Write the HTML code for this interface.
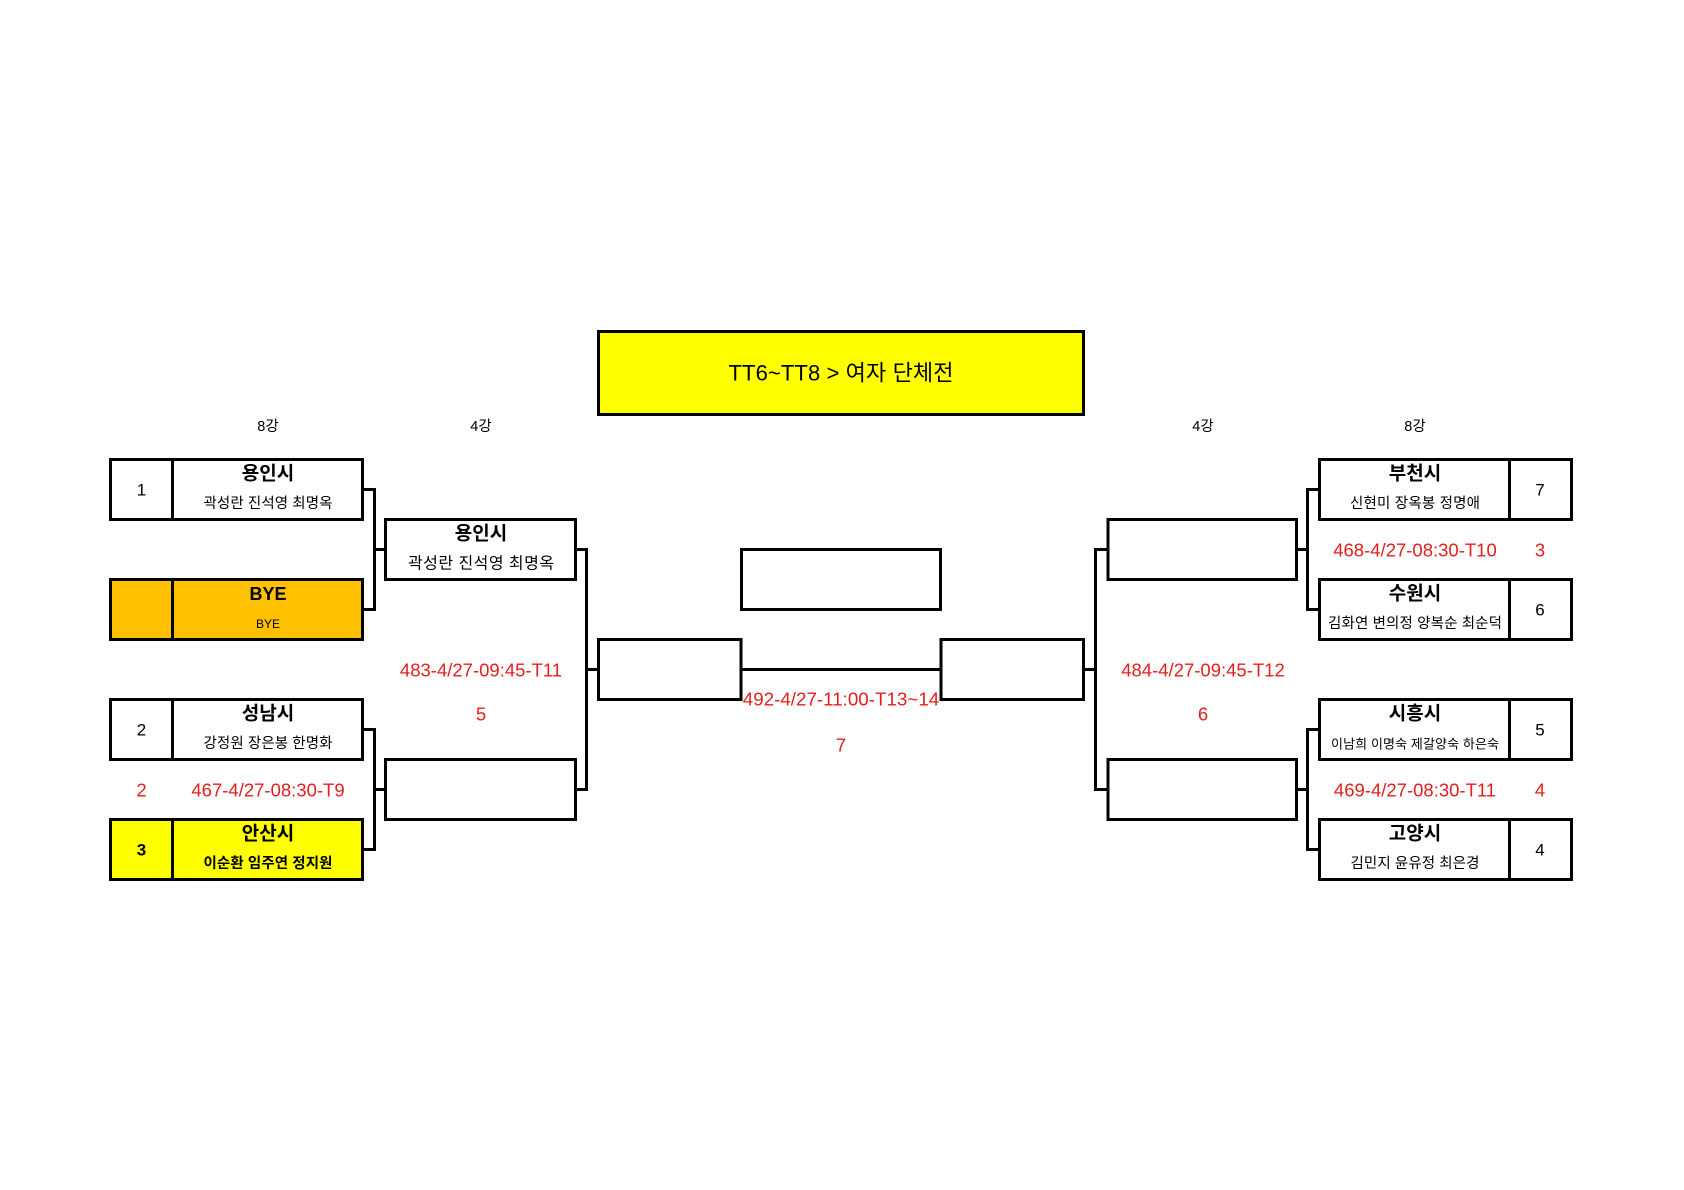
<!DOCTYPE html>
<html><head><meta charset="utf-8"><style>
html,body{margin:0;padding:0;background:#fff;}
svg{display:block;}
text{font-family:"Liberation Sans","Noto Sans CJK KR",sans-serif;}
</style></head><body>
<svg width="1684" height="1190" viewBox="0 0 1684 1190" xmlns="http://www.w3.org/2000/svg">
<rect width="1684" height="1190" fill="#fff"/>
<g stroke="#000" stroke-width="3" fill="none">
<!-- title -->
<rect x="598.5" y="331.5" width="485" height="83" fill="#ffff00"/>
<!-- left 8강 -->
<rect x="110.5" y="459.5" width="252" height="60" fill="#fff"/>
<rect x="110.5" y="579.5" width="252" height="60" fill="#ffc000"/>
<rect x="110.5" y="699.5" width="252" height="60" fill="#fff"/>
<rect x="110.5" y="819.5" width="252" height="60" fill="#ffff00"/>
<line x1="172.5" y1="459.5" x2="172.5" y2="519.5"/>
<line x1="172.5" y1="579.5" x2="172.5" y2="639.5"/>
<line x1="172.5" y1="699.5" x2="172.5" y2="759.5"/>
<line x1="172.5" y1="819.5" x2="172.5" y2="879.5"/>
<!-- left connectors 8->4 -->
<polyline points="362.5,489.5 374.5,489.5 374.5,609.5 362.5,609.5"/>
<line x1="374.5" y1="549.5" x2="385.5" y2="549.5"/>
<polyline points="362.5,729.5 374.5,729.5 374.5,849.5 362.5,849.5"/>
<line x1="374.5" y1="789.5" x2="385.5" y2="789.5"/>
<!-- left 4강 -->
<rect x="385.5" y="519.5" width="190" height="60" fill="#fff"/>
<rect x="385.5" y="759.5" width="190" height="60" fill="#fff"/>
<polyline points="575.5,549.5 586.5,549.5 586.5,789.5 575.5,789.5"/>
<line x1="586.5" y1="669.5" x2="598.5" y2="669.5"/>
<!-- semis & final -->
<rect x="598.5" y="639.5" width="142.5" height="60" fill="#fff"/>
<rect x="941" y="639.5" width="142.5" height="60" fill="#fff"/>
<line x1="741" y1="669.5" x2="941" y2="669.5"/>
<rect x="741.5" y="549.5" width="199" height="60" fill="#fff"/>
<!-- right side -->
<line x1="1083.5" y1="669.5" x2="1095.5" y2="669.5"/>
<polyline points="1108,549.5 1095.5,549.5 1095.5,789.5 1108,789.5"/>
<rect x="1108" y="519.5" width="188.5" height="60" fill="#fff"/>
<rect x="1108" y="759.5" width="188.5" height="60" fill="#fff"/>
<line x1="1296.5" y1="549.5" x2="1307.5" y2="549.5"/>
<line x1="1296.5" y1="789.5" x2="1307.5" y2="789.5"/>
<polyline points="1319.5,489.5 1307.5,489.5 1307.5,609.5 1319.5,609.5"/>
<polyline points="1319.5,729.5 1307.5,729.5 1307.5,849.5 1319.5,849.5"/>
<rect x="1319.5" y="459.5" width="252" height="60" fill="#fff"/>
<rect x="1319.5" y="579.5" width="252" height="60" fill="#fff"/>
<rect x="1319.5" y="699.5" width="252" height="60" fill="#fff"/>
<rect x="1319.5" y="819.5" width="252" height="60" fill="#fff"/>
<line x1="1509.5" y1="459.5" x2="1509.5" y2="519.5"/>
<line x1="1509.5" y1="579.5" x2="1509.5" y2="639.5"/>
<line x1="1509.5" y1="699.5" x2="1509.5" y2="759.5"/>
<line x1="1509.5" y1="819.5" x2="1509.5" y2="879.5"/>
</g>
<g text-anchor="middle" dominant-baseline="central" fill="#000">
<text x="841" y="373" font-size="22" textLength="225" lengthAdjust="spacing">TT6~TT8 &gt; 여자 단체전</text>
<text x="268" y="427" font-size="14.5">8강</text>
<text x="481" y="427" font-size="14.5">4강</text>
<text x="1203" y="427" font-size="14.5">4강</text>
<text x="1415" y="427" font-size="14.5">8강</text>

<text x="141.5" y="490" font-size="17">1</text>
<text x="268" y="474" font-size="19" font-weight="bold">용인시</text>
<text x="268" y="504" font-size="14.5" textLength="129" lengthAdjust="spacing">곽성란 진석영 최명옥</text>

<text x="268" y="594" font-size="18" font-weight="bold">BYE</text>
<text x="268" y="624" font-size="12">BYE</text>

<text x="141.5" y="730" font-size="17">2</text>
<text x="268" y="714" font-size="19" font-weight="bold">성남시</text>
<text x="268" y="744" font-size="14.5" textLength="129" lengthAdjust="spacing">강정원 장은봉 한명화</text>

<text x="141.5" y="850" font-size="17" font-weight="bold">3</text>
<text x="268" y="834" font-size="19" font-weight="bold">안산시</text>
<text x="268" y="864" font-size="14.5" font-weight="bold" textLength="129" lengthAdjust="spacing">이순환 임주연 정지원</text>

<text x="481" y="534" font-size="19" font-weight="bold">용인시</text>
<text x="481" y="564" font-size="16" textLength="146" lengthAdjust="spacing">곽성란 진석영 최명옥</text>

<text x="1415" y="474" font-size="19" font-weight="bold">부천시</text>
<text x="1415" y="504" font-size="14.5" textLength="130" lengthAdjust="spacing">신현미 장옥봉 정명애</text>
<text x="1540" y="490" font-size="17">7</text>

<text x="1415" y="594" font-size="19" font-weight="bold">수원시</text>
<text x="1415" y="624" font-size="14.5" textLength="174" lengthAdjust="spacing">김화연 변의정 양복순 최순덕</text>
<text x="1540" y="610" font-size="17">6</text>

<text x="1415" y="714" font-size="19" font-weight="bold">시흥시</text>
<text x="1415" y="744" font-size="13" textLength="168" lengthAdjust="spacing">이남희 이명숙 제갈양숙 하은숙</text>
<text x="1540" y="730" font-size="17">5</text>

<text x="1415" y="834" font-size="19" font-weight="bold">고양시</text>
<text x="1415" y="864" font-size="14.5" textLength="129" lengthAdjust="spacing">김민지 윤유정 최은경</text>
<text x="1540" y="850" font-size="17">4</text>
</g>
<g text-anchor="middle" dominant-baseline="central" fill="#e41e1e" font-size="18.5">
<text x="141.5" y="790">2</text>
<text x="268" y="790">467-4/27-08:30-T9</text>
<text x="481" y="670">483-4/27-09:45-T11</text>
<text x="481" y="714">5</text>
<text x="841" y="699" font-size="18.8">492-4/27-11:00-T13~14</text>
<text x="841" y="745">7</text>
<text x="1203" y="670">484-4/27-09:45-T12</text>
<text x="1203" y="714">6</text>
<text x="1415" y="550">468-4/27-08:30-T10</text>
<text x="1540" y="550">3</text>
<text x="1415" y="790">469-4/27-08:30-T11</text>
<text x="1540" y="790">4</text>
</g>
</svg>
</body></html>
